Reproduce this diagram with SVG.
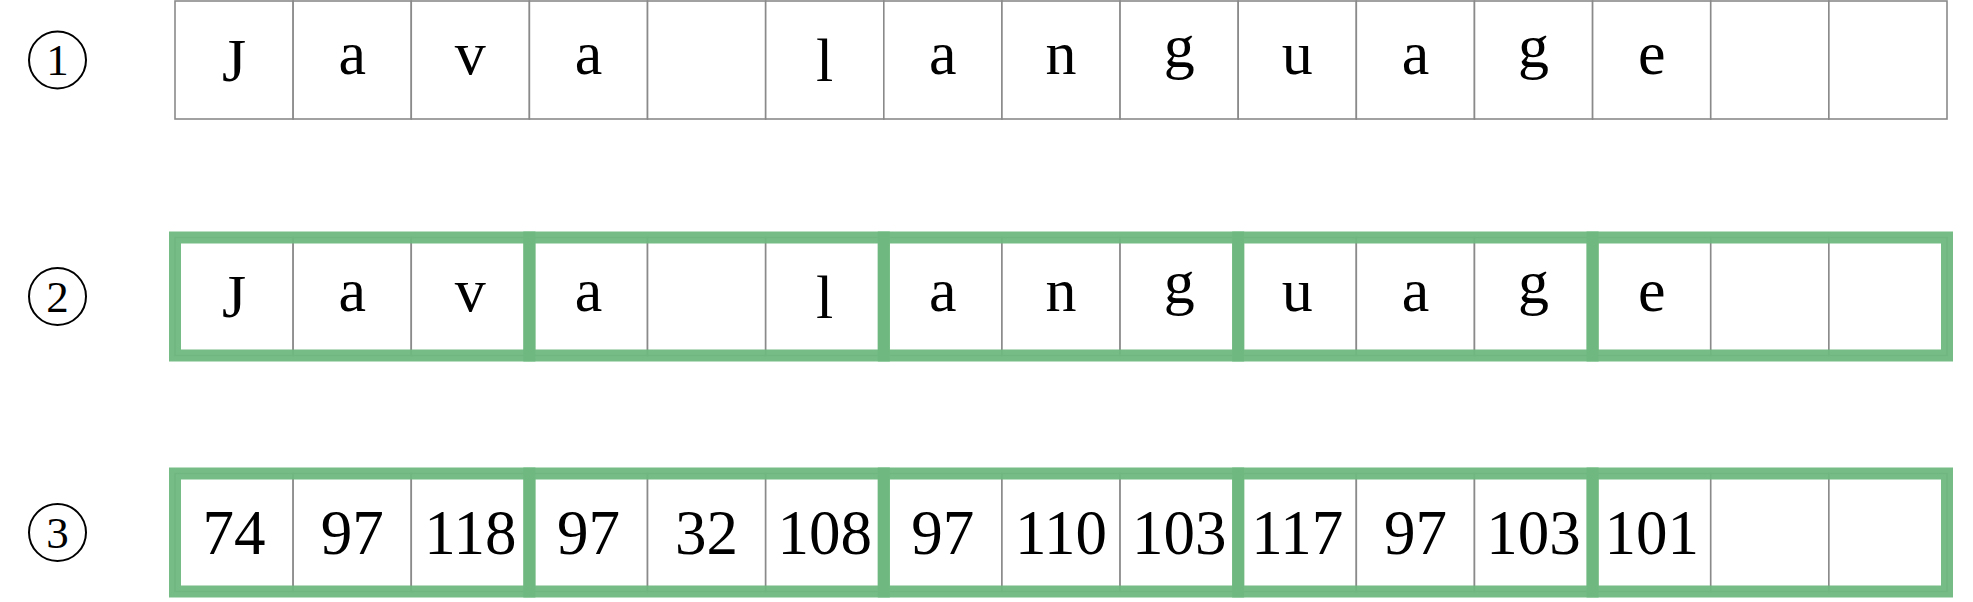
<svg xmlns="http://www.w3.org/2000/svg" width="1973" height="602" viewBox="0 0 1973 602">
<style>
.cell{fill:#ffffff;stroke:#8a8a8a;stroke-width:1.6}
.grp{fill:none;stroke:#6fb87f;stroke-width:12;stroke-opacity:0.95}
.t{font-family:"Liberation Serif","DejaVu Serif",serif;font-size:62px;fill:#000;text-anchor:middle}
.n{font-family:"Liberation Serif","DejaVu Serif",serif;font-size:63px;fill:#000;text-anchor:middle}
.lc{fill:none;stroke:#000;stroke-width:2}
.lt{font-family:"Liberation Serif","DejaVu Serif",serif;font-size:45px;fill:#000;text-anchor:middle}
</style>
<rect width="1973" height="602" fill="#fff"/>
<g id="labels">
<g id="label1"><circle class="lc" cx="57.5" cy="60" r="28.5"/><text class="lt" x="57.5" y="75">1</text></g>
<g id="label2"><circle class="lc" cx="57.5" cy="296.5" r="28.5"/><text class="lt" x="57.5" y="311.5">2</text></g>
<g id="label3"><circle class="lc" cx="57.5" cy="532.5" r="28.5"/><text class="lt" x="57.5" y="547.5">3</text></g>
</g>
<g id="row1">
<g id="r1c0"><rect class="cell" x="175" y="1" width="118.13" height="118"/><text class="t" x="234.07" y="80.5">J</text></g>
<g id="r1c1"><rect class="cell" x="293.13" y="1" width="118.13" height="118"/><text class="t" x="352.2" y="74.3">a</text></g>
<g id="r1c2"><rect class="cell" x="411.27" y="1" width="118.13" height="118"/><text class="t" x="470.33" y="74.3">v</text></g>
<g id="r1c3"><rect class="cell" x="529.4" y="1" width="118.13" height="118"/><text class="t" x="588.47" y="74.3">a</text></g>
<g id="r1c4"><rect class="cell" x="647.53" y="1" width="118.13" height="118"/></g>
<g id="r1c5"><rect class="cell" x="765.67" y="1" width="118.13" height="118"/><text class="t" x="824.73" y="81">l</text></g>
<g id="r1c6"><rect class="cell" x="883.8" y="1" width="118.13" height="118"/><text class="t" x="942.87" y="74.3">a</text></g>
<g id="r1c7"><rect class="cell" x="1001.93" y="1" width="118.13" height="118"/><text class="t" x="1061" y="74.3">n</text></g>
<g id="r1c8"><rect class="cell" x="1120.07" y="1" width="118.13" height="118"/><text class="t" x="1179.13" y="66.5">g</text></g>
<g id="r1c9"><rect class="cell" x="1238.2" y="1" width="118.13" height="118"/><text class="t" x="1297.27" y="74.3">u</text></g>
<g id="r1c10"><rect class="cell" x="1356.33" y="1" width="118.13" height="118"/><text class="t" x="1415.4" y="74.3">a</text></g>
<g id="r1c11"><rect class="cell" x="1474.47" y="1" width="118.13" height="118"/><text class="t" x="1533.53" y="66.5">g</text></g>
<g id="r1c12"><rect class="cell" x="1592.6" y="1" width="118.13" height="118"/><text class="t" x="1651.67" y="74.3">e</text></g>
<g id="r1c13"><rect class="cell" x="1710.73" y="1" width="118.13" height="118"/></g>
<g id="r1c14"><rect class="cell" x="1828.87" y="1" width="118.13" height="118"/></g>
</g>
<g id="row2">
<g id="r2c0"><rect class="cell" x="175" y="237.5" width="118.13" height="118"/><text class="t" x="234.07" y="317">J</text></g>
<g id="r2c1"><rect class="cell" x="293.13" y="237.5" width="118.13" height="118"/><text class="t" x="352.2" y="310.8">a</text></g>
<g id="r2c2"><rect class="cell" x="411.27" y="237.5" width="118.13" height="118"/><text class="t" x="470.33" y="310.8">v</text></g>
<g id="r2c3"><rect class="cell" x="529.4" y="237.5" width="118.13" height="118"/><text class="t" x="588.47" y="310.8">a</text></g>
<g id="r2c4"><rect class="cell" x="647.53" y="237.5" width="118.13" height="118"/></g>
<g id="r2c5"><rect class="cell" x="765.67" y="237.5" width="118.13" height="118"/><text class="t" x="824.73" y="317.5">l</text></g>
<g id="r2c6"><rect class="cell" x="883.8" y="237.5" width="118.13" height="118"/><text class="t" x="942.87" y="310.8">a</text></g>
<g id="r2c7"><rect class="cell" x="1001.93" y="237.5" width="118.13" height="118"/><text class="t" x="1061" y="310.8">n</text></g>
<g id="r2c8"><rect class="cell" x="1120.07" y="237.5" width="118.13" height="118"/><text class="t" x="1179.13" y="303">g</text></g>
<g id="r2c9"><rect class="cell" x="1238.2" y="237.5" width="118.13" height="118"/><text class="t" x="1297.27" y="310.8">u</text></g>
<g id="r2c10"><rect class="cell" x="1356.33" y="237.5" width="118.13" height="118"/><text class="t" x="1415.4" y="310.8">a</text></g>
<g id="r2c11"><rect class="cell" x="1474.47" y="237.5" width="118.13" height="118"/><text class="t" x="1533.53" y="303">g</text></g>
<g id="r2c12"><rect class="cell" x="1592.6" y="237.5" width="118.13" height="118"/><text class="t" x="1651.67" y="310.8">e</text></g>
<g id="r2c13"><rect class="cell" x="1710.73" y="237.5" width="118.13" height="118"/></g>
<g id="r2c14"><rect class="cell" x="1828.87" y="237.5" width="118.13" height="118"/></g>
</g>
<g id="row2-groups">
<rect class="grp" x="175" y="237.5" width="354.4" height="118"/>
<rect class="grp" x="529.4" y="237.5" width="354.4" height="118"/>
<rect class="grp" x="883.8" y="237.5" width="354.4" height="118"/>
<rect class="grp" x="1238.2" y="237.5" width="354.4" height="118"/>
<rect class="grp" x="1592.6" y="237.5" width="354.4" height="118"/>
</g>
<g id="row3">
<g id="r3c0"><rect class="cell" x="175" y="473.5" width="118.13" height="118"/><text class="n" x="234.07" y="554">74</text></g>
<g id="r3c1"><rect class="cell" x="293.13" y="473.5" width="118.13" height="118"/><text class="n" x="352.2" y="554">97</text></g>
<g id="r3c2"><rect class="cell" x="411.27" y="473.5" width="118.13" height="118"/><text class="n" x="470.33" y="554">118</text></g>
<g id="r3c3"><rect class="cell" x="529.4" y="473.5" width="118.13" height="118"/><text class="n" x="588.47" y="554">97</text></g>
<g id="r3c4"><rect class="cell" x="647.53" y="473.5" width="118.13" height="118"/><text class="n" x="706.6" y="554">32</text></g>
<g id="r3c5"><rect class="cell" x="765.67" y="473.5" width="118.13" height="118"/><text class="n" x="824.73" y="554">108</text></g>
<g id="r3c6"><rect class="cell" x="883.8" y="473.5" width="118.13" height="118"/><text class="n" x="942.87" y="554">97</text></g>
<g id="r3c7"><rect class="cell" x="1001.93" y="473.5" width="118.13" height="118"/><text class="n" x="1061" y="554">110</text></g>
<g id="r3c8"><rect class="cell" x="1120.07" y="473.5" width="118.13" height="118"/><text class="n" x="1179.13" y="554">103</text></g>
<g id="r3c9"><rect class="cell" x="1238.2" y="473.5" width="118.13" height="118"/><text class="n" x="1297.27" y="554">117</text></g>
<g id="r3c10"><rect class="cell" x="1356.33" y="473.5" width="118.13" height="118"/><text class="n" x="1415.4" y="554">97</text></g>
<g id="r3c11"><rect class="cell" x="1474.47" y="473.5" width="118.13" height="118"/><text class="n" x="1533.53" y="554">103</text></g>
<g id="r3c12"><rect class="cell" x="1592.6" y="473.5" width="118.13" height="118"/><text class="n" x="1651.67" y="554">101</text></g>
<g id="r3c13"><rect class="cell" x="1710.73" y="473.5" width="118.13" height="118"/></g>
<g id="r3c14"><rect class="cell" x="1828.87" y="473.5" width="118.13" height="118"/></g>
</g>
<g id="row3-groups">
<rect class="grp" x="175" y="473.5" width="354.4" height="118"/>
<rect class="grp" x="529.4" y="473.5" width="354.4" height="118"/>
<rect class="grp" x="883.8" y="473.5" width="354.4" height="118"/>
<rect class="grp" x="1238.2" y="473.5" width="354.4" height="118"/>
<rect class="grp" x="1592.6" y="473.5" width="354.4" height="118"/>
</g>
</svg>
